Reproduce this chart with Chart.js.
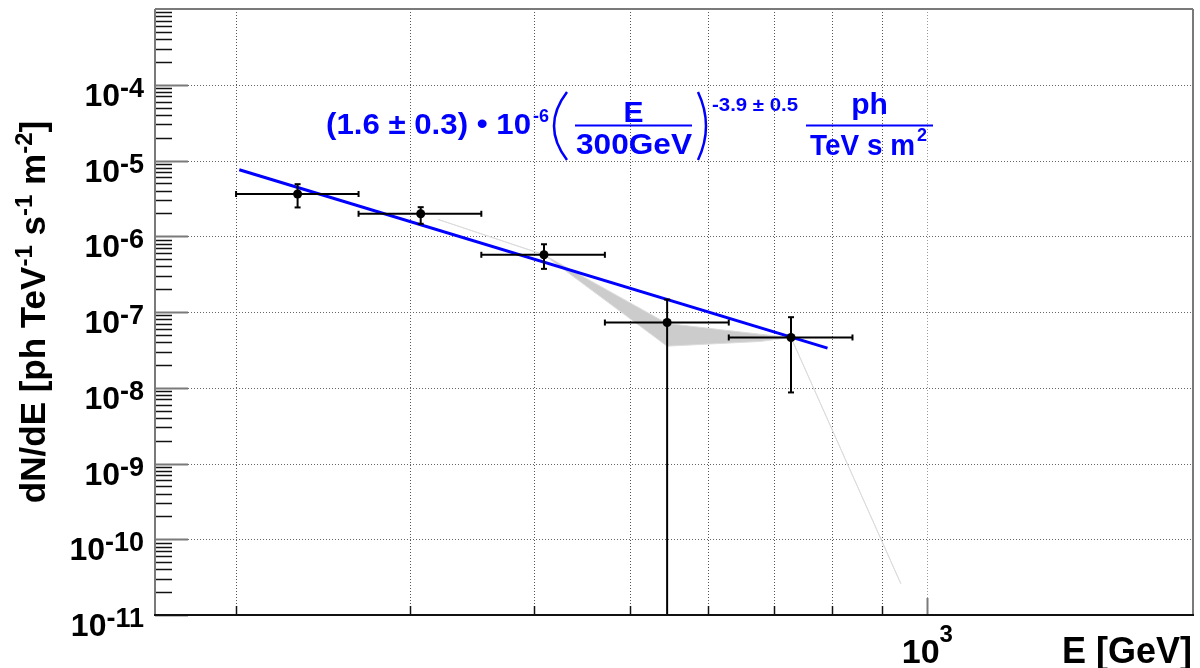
<!DOCTYPE html>
<html>
<head>
<meta charset="utf-8">
<script src="https://cdn.jsdelivr.net/npm/chart.js@4.4.1/dist/chart.umd.min.js"></script>
<style>
  html, body { margin: 0; padding: 0; background: #ffffff; overflow: hidden; }
  #wrap { width: 1200px; height: 668px; position: relative; }
</style>
</head>
<body>
<div id="wrap"><canvas id="c" width="1200" height="668"></canvas></div>
<script>
// Flux points: energy [GeV] with bin edges, dN/dE [ph TeV^-1 s^-1 m^-2] with error limits
const energy   = [230.8, 307.4, 409.6, 545.6, 728.0];
const energyLo = [200.0, 266.0, 354.0, 472.0, 629.8];
const energyHi = [266.0, 354.0, 472.0, 629.8, 840.0];
const flux     = [3.61e-6, 1.98e-6, 5.69e-7, 7.26e-8, 4.61e-8];
const fluxLo   = [2.40e-6, 1.46e-6, 3.71e-7, 0, 8.67e-9];   // 0: lower limit runs off the axis
const fluxHi   = [4.87e-6, 2.42e-6, 7.84e-7, 1.46e-7, 8.54e-8];

// Power-law fit, end points of the drawn segment
const fitEnergy = [201.5, 792.6];
const fitFlux   = [7.54e-6, 3.33e-8];

// Unfolded spectrum contour: upper and lower edges
const bandEnergy = [320, 409.6, 545.6, 677, 728, 940];
const bandUpper  = [1.67e-6, 5.69e-7, 7.05e-8, 5.09e-8, 4.61e-8, 2.6e-11];
const bandLower  = [1.67e-6, 5.69e-7, 3.54e-8, 4.08e-8, 4.61e-8, 2.6e-11];

// Axis ranges and ticks
const xRange = [165.6, 1856];
const yRange = [1e-11, 1e-3];
const xGridTicks = [200, 300, 400, 500, 600, 700, 800, 900, 1000];
const xLabelTicks = [{ value: 1000, base: '10', exp: '3' }];
const yDecades = [-11, -10, -9, -8, -7, -6, -5, -4, -3];
const yLabelDecades = [-11, -10, -9, -8, -7, -6, -5, -4];

const FONT = '"Liberation Sans", Arial, Helvetica, sans-serif';
const BLUE = '#0000ff';

function font(size) { return 'bold ' + size + 'px ' + FONT; }

// text drawn with its left edge at x, optionally stretched to a given width
function fitText(ctx, str, left, base, size, width) {
  ctx.font = font(size);
  const w = ctx.measureText(str).width;
  ctx.save();
  ctx.translate(left, base);
  if (width) ctx.scale(width / w, 1);
  ctx.textAlign = 'left';
  ctx.textBaseline = 'alphabetic';
  ctx.fillText(str, 0, 0);
  ctx.restore();
}

// run of text pieces with superscripts
function richWidth(ctx, parts) {
  let w = 0;
  parts.forEach(p => { ctx.font = font(p.size); w += ctx.measureText(p.t).width; });
  return w;
}
function drawRich(ctx, parts, x, base) {
  let cx = x;
  parts.forEach(p => {
    ctx.font = font(p.size);
    ctx.fillText(p.t, cx, base + (p.dy || 0));
    cx += ctx.measureText(p.t).width;
  });
}

function seg(ctx, x1, y1, x2, y2) {
  ctx.beginPath(); ctx.moveTo(x1, y1); ctx.lineTo(x2, y2); ctx.stroke();
}

const rootFrame = {
  id: 'rootFrame',
  beforeDatasetsDraw(chart) {
    const { ctx, chartArea: a, scales: { x, y } } = chart;
    ctx.save();
    ctx.lineWidth = 1;
    ctx.setLineDash([1, 2]);
    xGridTicks.forEach(v => {
      const px = Math.round(x.getPixelForValue(v)) + 0.5;
      ctx.strokeStyle = v === 1000 ? '#9a9a9a' : '#555555';
      seg(ctx, px, a.top, px, a.bottom);
    });
    ctx.strokeStyle = '#666666';
    yDecades.forEach(d => {
      const py = Math.round(y.getPixelForValue(Math.pow(10, d))) + 0.5;
      if (py > a.top + 2 && py < a.bottom - 2) seg(ctx, a.left, py, a.right, py);
    });
    ctx.restore();
  },
  afterDatasetsDraw(chart) {
    const { ctx, chartArea: a, scales: { x, y } } = chart;
    ctx.save();
    ctx.beginPath();
    ctx.rect(a.left, a.top, a.right - a.left, a.bottom - a.top);
    ctx.clip();
    // error bars
    ctx.strokeStyle = '#000000';
    ctx.lineWidth = 2;
    const cap = 3;
    energy.forEach((e, i) => {
      const px = x.getPixelForValue(e);
      const py = y.getPixelForValue(flux[i]);
      const xl = x.getPixelForValue(energyLo[i]);
      const xh = x.getPixelForValue(energyHi[i]);
      const yh = y.getPixelForValue(fluxHi[i]);
      const yl = fluxLo[i] > 0 ? y.getPixelForValue(fluxLo[i]) : a.bottom;
      seg(ctx, xl, py, xh, py);
      seg(ctx, xl, py - cap, xl, py + cap);
      seg(ctx, xh, py - cap, xh, py + cap);
      seg(ctx, px, yh, px, yl);
      seg(ctx, px - cap, yh, px + cap, yh);
      if (fluxLo[i] > 0) seg(ctx, px - cap, yl, px + cap, yl);
    });
    ctx.restore();

    // tick marks on the inner side of the frame
    ctx.save();
    for (let d = -11; d <= -4; d++) {
      for (let k = 1; k <= 9; k++) {
        const v = k * Math.pow(10, d);
        if (v < yRange[0] || v > yRange[1]) continue;
        const py = Math.round(y.getPixelForValue(v)) + 0.5;
        if (k === 1) {
          ctx.strokeStyle = '#7a7a7a'; ctx.lineWidth = 2;
          seg(ctx, a.left, py, a.left + 33, py);
        } else {
          ctx.strokeStyle = '#111111'; ctx.lineWidth = 1.5;
          seg(ctx, a.left, py, a.left + 17, py);
        }
      }
    }
    xGridTicks.forEach(v => {
      const px = Math.round(x.getPixelForValue(v)) + 0.5;
      if (v === 1000) {
        ctx.strokeStyle = '#7a7a7a'; ctx.lineWidth = 2;
        seg(ctx, px, a.bottom, px, a.bottom - 17);
      } else {
        ctx.strokeStyle = '#111111'; ctx.lineWidth = 1.5;
        seg(ctx, px, a.bottom, px, a.bottom - 9);
      }
    });
    // frame
    ctx.lineWidth = 2;
    ctx.strokeStyle = '#7a7a7a';
    seg(ctx, a.left, a.bottom, a.left, a.top);
    seg(ctx, a.left, a.top, a.right, a.top);
    seg(ctx, a.right, a.top, a.right, a.bottom);
    ctx.strokeStyle = '#111111';
    seg(ctx, a.left - 1, a.bottom, a.right + 1, a.bottom);
    ctx.restore();
  },
  afterDraw(chart) {
    const { ctx, chartArea: a, scales: { x, y } } = chart;
    ctx.save();
    ctx.fillStyle = '#000000';
    ctx.textBaseline = 'alphabetic';
    ctx.textAlign = 'left';

    // y tick labels, right edge at a fixed column
    yLabelDecades.forEach(d => {
      const py = y.getPixelForValue(Math.pow(10, d));
      const parts = [{ t: '10', size: 32 }, { t: '-' + Math.abs(d), size: 27, dy: -9 }];
      const w = richWidth(ctx, parts);
      drawRich(ctx, parts, 144 - w, py + 21);
    });

    // x tick label
    xLabelTicks.forEach(t => {
      const px = x.getPixelForValue(t.value);
      const parts = [{ t: t.base, size: 34 }, { t: t.exp, size: 24, dy: -21 }];
      const w = richWidth(ctx, parts);
      drawRich(ctx, parts, px - w / 2, a.bottom + 48);
    });

    // x axis title
    ctx.font = font(36);
    ctx.textAlign = 'right';
    ctx.fillText('E [GeV]', a.right - 1, a.bottom + 48);
    ctx.textAlign = 'left';

    // y axis title, rotated
    const tparts = [
      { t: 'dN/dE [ph TeV', size: 35 }, { t: '-1', size: 24, dy: -13 },
      { t: ' s', size: 35 }, { t: '-1', size: 24, dy: -13 },
      { t: ' m', size: 35 }, { t: '-2', size: 24, dy: -13 },
      { t: ']', size: 35 }
    ];
    const tw = richWidth(ctx, tparts);
    ctx.save();
    ctx.translate(45, 312);
    ctx.rotate(-Math.PI / 2);
    drawRich(ctx, tparts, -tw / 2, 0);
    ctx.restore();

    // fit formula
    ctx.fillStyle = BLUE;
    ctx.strokeStyle = BLUE;
    fitText(ctx, '(1.6 \u00b1 0.3) \u2022 10', 326, 134, 30, 205);
    fitText(ctx, '-6', 533, 122, 18, 16);
    ctx.lineWidth = 2.5;
    ctx.beginPath(); ctx.moveTo(567, 92); ctx.quadraticCurveTo(541, 126, 567, 160); ctx.stroke();
    ctx.beginPath(); ctx.moveTo(698, 92); ctx.quadraticCurveTo(714, 126, 698, 160); ctx.stroke();
    ctx.font = font(30);
    ctx.textAlign = 'center';
    ctx.fillText('E', 633.5, 122);
    ctx.textAlign = 'left';
    ctx.lineWidth = 2;
    seg(ctx, 575, 125.5, 692, 125.5);
    fitText(ctx, '300GeV', 576, 154, 30, 116);
    fitText(ctx, '-3.9 \u00b1 0.5', 712, 111, 18, 86);
    ctx.font = font(30);
    ctx.textAlign = 'center';
    ctx.fillText('ph', 869.5, 114);
    ctx.textAlign = 'left';
    seg(ctx, 806, 125.5, 933, 125.5);
    fitText(ctx, 'TeV s m', 810, 155, 30, 105);
    fitText(ctx, '2', 917, 141, 18);
    ctx.restore();
  }
};

const points = energy.map((e, i) => ({ x: e, y: flux[i] }));
const fitLine = fitEnergy.map((e, i) => ({ x: e, y: fitFlux[i] }));
const upper = bandEnergy.map((e, i) => ({ x: e, y: bandUpper[i] }));
const lower = bandEnergy.map((e, i) => ({ x: e, y: bandLower[i] }));

new Chart(document.getElementById('c'), {
  type: 'scatter',
  data: {
    datasets: [
      { label: 'flux', data: points, order: 0, pointRadius: 4.5, pointHoverRadius: 4.5,
        backgroundColor: '#000000', borderColor: '#000000', borderWidth: 0 },
      { type: 'line', label: 'fit', data: fitLine, order: 1, borderColor: BLUE, borderWidth: 3,
        pointRadius: 0, fill: false, tension: 0 },
      { type: 'line', label: 'band upper', data: upper, order: 2, borderColor: '#dcdcdc', borderWidth: 1,
        pointRadius: 0, fill: false, tension: 0 },
      { type: 'line', label: 'band lower', data: lower, order: 3, borderColor: '#dcdcdc', borderWidth: 1,
        pointRadius: 0, fill: 2, backgroundColor: '#cccccc', tension: 0 }
    ]
  },
  options: {
    responsive: false,
    animation: false,
    events: [],
    layout: { padding: { left: 155, right: 7, top: 9, bottom: 53 } },
    plugins: { legend: { display: false }, tooltip: { enabled: false } },
    scales: {
      x: { type: 'logarithmic', min: xRange[0], max: xRange[1], display: false },
      y: { type: 'logarithmic', min: yRange[0], max: yRange[1], display: false }
    }
  },
  plugins: [rootFrame]
});
</script>
</body>
</html>
